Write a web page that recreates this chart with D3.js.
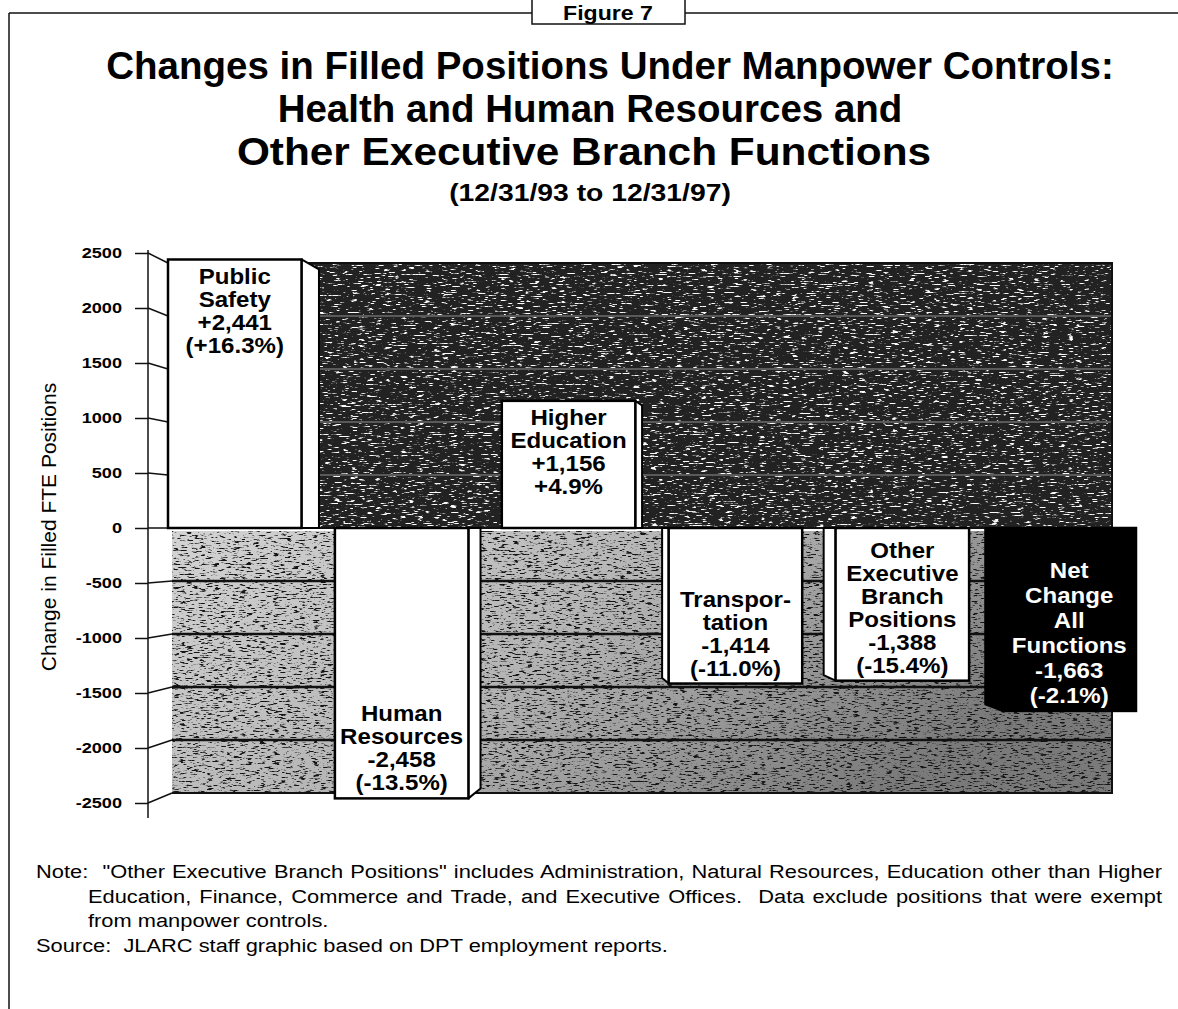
<!DOCTYPE html>
<html>
<head>
<meta charset="utf-8">
<script src="https://cdn.jsdelivr.net/npm/d3@7"></script>
<style>
  html, body { margin: 0; padding: 0; background: #fff; }
  svg { display: block; }
  text { font-family: "Liberation Sans", Arial, sans-serif; }
</style>
</head>
<body>
<script>
const width = 1178, height = 1009;

// data
const categories = ["Public Safety", "Human Resources", "Higher Education", "Transportation",
  "Other Executive Branch Positions", "Net Change All Functions"];
const values = [2441, -2458, 1156, -1414, -1388, -1663];
const percents = ["(+16.3%)", "(-13.5%)", "+4.9%", "(-11.0%)", "(-15.4%)", "(-2.1%)"];
const nameLines = [["Public", "Safety"], ["Human", "Resources"], ["Higher", "Education"],
  ["Transpor-", "tation"], ["Other", "Executive", "Branch", "Positions"], ["Net", "Change", "All", "Functions"]];
const yTicks = [2500, 2000, 1500, 1000, 500, 0, -500, -1000, -1500, -2000, -2500];
const figureLabel = "Figure 7";
const titleLines = ["Changes in Filled Positions Under Manpower Controls:",
  "Health and Human Resources and", "Other Executive Branch Functions"];
const subtitle = "(12/31/93 to 12/31/97)";
const yLabel = "Change in Filled FTE Positions";
const noteLines = ["Note:  \"Other Executive Branch Positions\" includes Administration, Natural Resources, Education other than Higher",
  "Education, Finance, Commerce and Trade, and Executive Offices.  Data exclude positions that were exempt",
  "from manpower controls."];
const sourceLine = "Source:  JLARC staff graphic based on DPT employment reports.";

const fmt = d3.formatLocale({decimal: ".", thousands: ",", grouping: [3], currency: ["$", ""], minus: "-"}).format("+,");

const svg = d3.select("body").append("svg").attr("width", width).attr("height", height);
const defs = svg.append("defs");

// grainy scan-like textures for the back wall
function addTexture(id, c, freq, k, b, seed) {
  const f = defs.append("filter").attr("id", id)
    .attr("x", 0).attr("y", 0).attr("width", 1).attr("height", 1)
    .attr("color-interpolation-filters", "sRGB");
  f.append("feTurbulence").attr("type", "fractalNoise").attr("baseFrequency", freq)
    .attr("numOctaves", 3).attr("seed", seed).attr("result", "noise");
  f.append("feColorMatrix").attr("in", "noise").attr("type", "matrix")
    .attr("values", `0 0 0 0 ${c} 0 0 0 0 ${c} 0 0 0 0 ${c} ${k} 0 0 0 ${b}`).attr("result", "spk");
  f.append("feComposite").attr("in", "spk").attr("in2", "SourceAlpha").attr("operator", "in").attr("result", "spk2");
  const m = f.append("feMerge");
  m.append("feMergeNode").attr("in", "SourceGraphic");
  m.append("feMergeNode").attr("in", "spk2");
}
addTexture("texDark", 1, "0.12 0.9", 8, -4.8, 3);
addTexture("texLight", 0.08, "0.15 0.7", 7, -3.9, 7);

const grad = defs.append("linearGradient").attr("id", "lowGrad").attr("x1", 0).attr("x2", 1).attr("y1", 0).attr("y2", 0.4);
grad.append("stop").attr("offset", 0).attr("stop-color", "#d4d4d4");
grad.append("stop").attr("offset", 0.5).attr("stop-color", "#b4b4b4");
grad.append("stop").attr("offset", 1).attr("stop-color", "#7a7a7a");

// scales: front plane (axis) and back wall, slightly compressed toward zero
const yA = d3.scaleLinear().domain([-2500, 2500]).range([803, 253]);
const yW = d3.scaleLinear().domain([-2500, 2500]).range([793, 263]);
const x = d3.scaleBand().domain(categories).range([168, 1136]).paddingInner(0.2).paddingOuter(0);
const wallRight = 1112;
const vanishX = 655;
const depth = cx => 4 + 0.032 * Math.abs(cx - vanishX);

// frame
svg.append("line").attr("x1", 9).attr("x2", 9).attr("y1", 13).attr("y2", height).attr("stroke", "#111").attr("stroke-width", 1.5);
svg.append("line").attr("x1", 9).attr("x2", 532).attr("y1", 13).attr("y2", 13).attr("stroke", "#111").attr("stroke-width", 1.5);
svg.append("line").attr("x1", 685).attr("x2", width).attr("y1", 13).attr("y2", 13).attr("stroke", "#111").attr("stroke-width", 1.5);
svg.append("rect").attr("x", 532).attr("y", -6).attr("width", 153).attr("height", 30)
  .attr("fill", "#fff").attr("stroke", "#111").attr("stroke-width", 1.5);
svg.append("text").attr("transform", "translate(608,20) scale(1.1,1)").attr("text-anchor", "middle")
  .attr("font-size", 21).attr("font-weight", "bold").text(figureLabel);

// titles
const titleX = [610, 590, 584];
const titleStretch = [1, 1, 1.1];
svg.selectAll(".title").data(titleLines).join("text").attr("class", "title")
  .attr("transform", (d, i) => `translate(${titleX[i]},${79 + i * 43}) scale(${titleStretch[i]},1)`)
  .attr("text-anchor", "middle")
  .attr("font-size", 38.5).attr("font-weight", "bold").text(d => d);
svg.append("text").attr("transform", "translate(590,201) scale(1.18,1)").attr("text-anchor", "middle")
  .attr("font-size", 24).attr("font-weight", "bold").text(subtitle);

// back wall
svg.append("rect").attr("x", 168).attr("y", yW(2500)).attr("width", wallRight - 168).attr("height", yW(0) - yW(2500))
  .attr("fill", "#222").attr("filter", "url(#texDark)");
svg.append("rect").attr("x", 172).attr("y", yW(0) + 3).attr("width", wallRight - 172).attr("height", yW(-2500) - yW(0) - 3)
  .attr("fill", "url(#lowGrad)").attr("filter", "url(#texLight)");

// wall gridlines
svg.selectAll(".grid").data(yTicks.filter(v => v !== 0 && Math.abs(v) !== 2500)).join("line").attr("class", "grid")
  .attr("x1", v => v > 0 ? 168 : 172).attr("x2", wallRight)
  .attr("y1", v => yW(v)).attr("y2", v => yW(v))
  .attr("stroke", v => v > 0 ? "#5a5a5a" : "#111").attr("stroke-width", v => v > 0 ? 2 : 2.5);
svg.append("path").attr("fill", "none").attr("stroke", "#111").attr("stroke-width", 2)
  .attr("d", `M168,${yW(2500)}H${wallRight}V${yW(0)}H168`);
svg.append("path").attr("fill", "none").attr("stroke", "#111").attr("stroke-width", 2)
  .attr("d", `M${wallRight},${yW(0) + 3}V${yW(-2500)}H172`);

// axis
const tickScale = 1.17;
const axisG = svg.append("g").attr("transform", "translate(148,0)")
  .call(d3.axisLeft(yA).tickValues(yTicks).tickSize(13).tickPadding(13).tickFormat(d => String(d)));
axisG.select(".domain").remove();
axisG.selectAll(".tick line").attr("stroke", "#111").attr("stroke-width", 1.5);
axisG.selectAll(".tick text").attr("fill", "#000").attr("font-family", "Liberation Sans, Arial, sans-serif")
  .attr("font-size", 15.5).attr("font-weight", "bold").attr("x", -26 / tickScale).attr("transform", `scale(${tickScale},1)`);
svg.append("line").attr("x1", 148).attr("x2", 148).attr("y1", 250).attr("y2", 818).attr("stroke", "#111").attr("stroke-width", 1.5);
svg.selectAll(".diag").data(yTicks).join("line").attr("class", "diag")
  .attr("x1", 148).attr("y1", v => yA(v)).attr("x2", v => v >= 0 ? 168 : 172).attr("y2", v => yW(v))
  .attr("stroke", "#111").attr("stroke-width", 1.5);

svg.append("text").attr("transform", "translate(56,527) rotate(-90)").attr("text-anchor", "middle")
  .attr("font-size", 21).text(yLabel);

// bars
const last = categories.length - 1;
const bars = categories.map((c, i) => {
  const x0 = x(c), x1 = x0 + x.bandwidth(), cx = (x0 + x1) / 2;
  const d = depth(cx);
  const near = cx < vanishX ? x1 : x0;
  const far = cx < vanishX ? x1 + d : x0 - d;
  return {c, i, v: values[i], x0, x1, cx, near, far};
});

svg.selectAll(".side").data(bars).join("path").attr("class", "side")
  .attr("d", b => `M${b.near},${yA(0)}L${b.near},${yA(b.v)}L${b.far},${yW(b.v)}L${b.far},${yW(0)}Z`)
  .attr("fill", b => b.i === last ? "#000" : "#fff").attr("stroke", "#000").attr("stroke-width", 2).attr("stroke-linejoin", "round");

svg.selectAll(".front").data(bars).join("rect").attr("class", "front")
  .attr("x", b => b.x0).attr("width", x.bandwidth())
  .attr("y", b => Math.min(yA(b.v), yA(0))).attr("height", b => Math.abs(yA(b.v) - yA(0)))
  .attr("fill", b => b.i === last ? "#000" : "#fff").attr("stroke", "#000").attr("stroke-width", 2.5);

// bar labels
bars.forEach(b => {
  const lines = nameLines[b.i].concat([fmt(b.v), percents[b.i]]);
  const pitch = b.i === last ? 25 : 23;
  const first = b.v > 0 ? yA(b.v) + 24.5 : yA(b.v) - 8 - (lines.length - 1) * pitch;
  lines.forEach((t, j) => {
    svg.append("text")
      .attr("transform", `translate(${b.cx},${first + j * pitch}) scale(1.12,1)`)
      .attr("text-anchor", "middle").attr("font-size", 21.5).attr("font-weight", "bold")
      .attr("fill", b.i === last ? "#fff" : "#000").text(t);
  });
});

// notes: slightly wide type, first two lines justified to the right margin
const noteRight = 1162;
const noteScale = 1.15;
const notes = svg.append("g").attr("font-size", 19);
[[noteLines[0], 36, 878, true], [noteLines[1], 88, 903, true], [noteLines[2], 88, 927, false], [sourceLine, 36, 952, false]]
  .forEach(([t, nx, ny, justify]) => {
    const el = notes.append("text").attr("transform", `translate(${nx},${ny}) scale(${noteScale},1)`)
      .attr("xml:space", "preserve").style("white-space", "pre").text(t);
    if (justify) {
      const gaps = (t.match(/ /g) || []).length;
      const extra = ((noteRight - nx) / noteScale - el.node().getComputedTextLength()) / gaps;
      el.style("word-spacing", `${Math.max(0, extra)}px`);
    }
  });
</script>
</body>
</html>
